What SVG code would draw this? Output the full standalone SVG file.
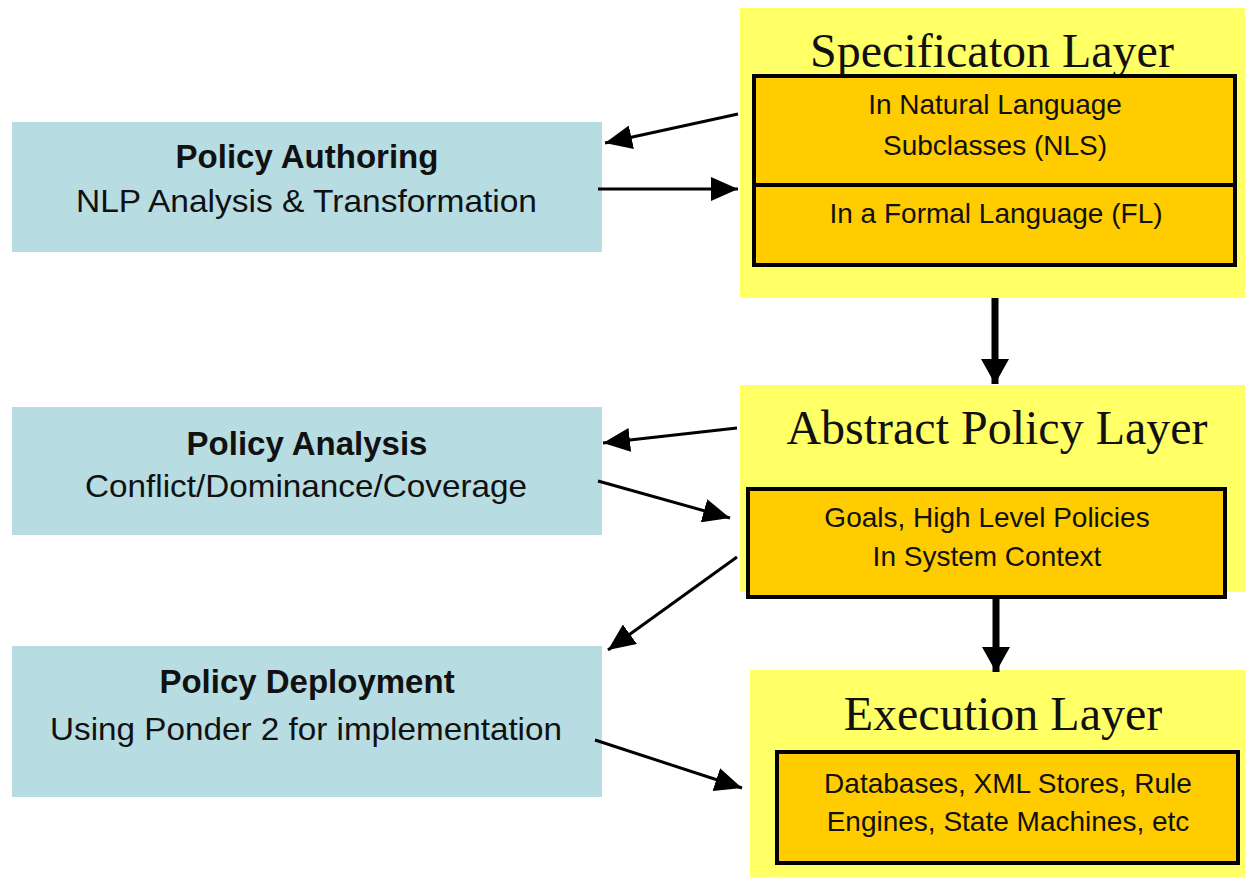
<svg xmlns="http://www.w3.org/2000/svg" width="1245" height="877" viewBox="0 0 1245 877">
  <style>
    .tool { fill: #B7DDE2; }
    .layer { fill: #FFFF66; }
    .inner { fill: #FFCC00; stroke: #000; stroke-width: 4; }
    .title { font-family: "Liberation Serif", "Times New Roman", serif; font-size: 48px; fill: #111; text-anchor: middle; }
    .body { font-family: "Liberation Sans", Arial, sans-serif; font-size: 28px; fill: #111; text-anchor: middle; }
    .head { font-family: "Liberation Sans", Arial, sans-serif; font-size: 33px; font-weight: bold; fill: #111; text-anchor: middle; }
    .sub { font-family: "Liberation Sans", Arial, sans-serif; font-size: 32px; fill: #111; text-anchor: middle; }
    .thin { stroke: #000; stroke-width: 3; fill: none; marker-end: url(#tip); }
    .thick { stroke: #000; stroke-width: 7; fill: none; marker-end: url(#bigtip); }
  </style>
  <defs>
    <marker id="tip" markerUnits="userSpaceOnUse" markerWidth="28" markerHeight="24" refX="27" refY="12" orient="auto">
      <path d="M0,0 L27,12 L0,24 z" fill="#000"/>
    </marker>
    <marker id="bigtip" markerUnits="userSpaceOnUse" markerWidth="26" markerHeight="28" refX="25" refY="14" orient="auto">
      <path d="M0,0 L25,14 L0,28 z" fill="#000"/>
    </marker>
  </defs>

  <rect width="1245" height="877" fill="#fff"/>

  <!-- left column: activities -->
  <g id="policy-authoring">
    <rect class="tool" x="12" y="122" width="590" height="130"/>
    <text class="head" x="307" y="168">Policy Authoring</text>
    <text class="sub" x="306.5" y="212" textLength="461" lengthAdjust="spacingAndGlyphs">NLP Analysis &amp; Transformation</text>
  </g>
  <g id="policy-analysis">
    <rect class="tool" x="12" y="407" width="590" height="128"/>
    <text class="head" x="307" y="455">Policy Analysis</text>
    <text class="sub" x="306" y="497" textLength="442" lengthAdjust="spacingAndGlyphs">Conflict/Dominance/Coverage</text>
  </g>
  <g id="policy-deployment">
    <rect class="tool" x="12" y="646" width="590" height="151"/>
    <text class="head" x="307" y="693">Policy Deployment</text>
    <text class="sub" x="306" y="740" textLength="512" lengthAdjust="spacingAndGlyphs">Using Ponder 2 for implementation</text>
  </g>

  <!-- right column: layers -->
  <g id="specification-layer">
    <rect class="layer" x="740" y="8" width="505" height="290"/>
    <text class="title" x="992" y="67">Specificaton Layer</text>
    <rect class="inner" x="754" y="76" width="481" height="189"/>
    <line x1="754" y1="185" x2="1235" y2="185" stroke="#000" stroke-width="4"/>
    <text class="body" x="995" y="114">In Natural Language</text>
    <text class="body" x="995" y="155">Subclasses (NLS)</text>
    <text class="body" x="996" y="223">In a Formal Language (FL)</text>
  </g>
  <g id="abstract-policy-layer">
    <rect class="layer" x="740" y="385" width="505" height="207"/>
    <text class="title" x="997" y="444">Abstract Policy Layer</text>
    <rect class="inner" x="748" y="489" width="477" height="108"/>
    <text class="body" x="987" y="527">Goals, High Level Policies</text>
    <text class="body" x="987" y="566">In System Context</text>
  </g>
  <g id="execution-layer">
    <rect class="layer" x="750" y="670" width="495" height="207"/>
    <text class="title" x="1003" y="730">Execution Layer</text>
    <rect class="inner" x="777" y="752" width="461" height="111"/>
    <text class="body" x="1008" y="793">Databases, XML Stores, Rule</text>
    <text class="body" x="1008" y="831">Engines, State Machines, etc</text>
  </g>

  <!-- connectors -->
  <g id="connectors">
    <line class="thin" x1="738" y1="114" x2="605" y2="143"/>
    <line class="thin" x1="598" y1="189" x2="738" y2="189"/>
    <line class="thin" x1="737" y1="428" x2="603" y2="443"/>
    <line class="thin" x1="598" y1="481" x2="730" y2="518"/>
    <line class="thin" x1="737" y1="557" x2="608" y2="650"/>
    <line class="thin" x1="595" y1="740" x2="742" y2="788"/>
    <line class="thick" x1="995" y1="298" x2="995" y2="384"/>
    <line class="thick" x1="996" y1="599" x2="996" y2="672"/>
  </g>
</svg>
